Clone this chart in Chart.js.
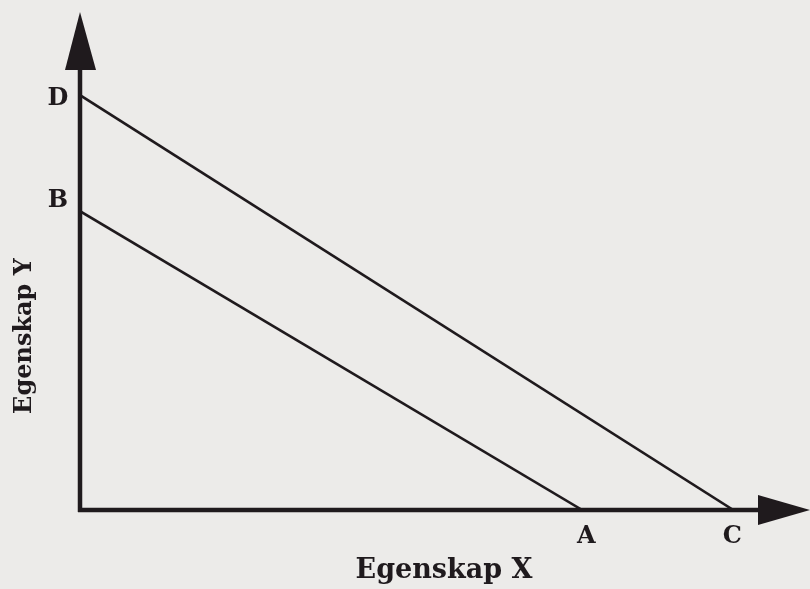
<!DOCTYPE html>
<html>
<head>
<meta charset="utf-8">
<script src="https://cdn.jsdelivr.net/npm/chart.js@4/dist/chart.umd.min.js"></script>
<style>
  html, body { margin: 0; padding: 0; background: #ecebe9; }
  #wrap { width: 810px; height: 589px; }
</style>
</head>
<body>
<div id="wrap"><canvas id="c" width="810" height="589"></canvas></div>
<script>
// Intercepts of the two straight lines on the axes
const pointNames = ['B', 'A', 'D', 'C'];
const innerLine = [{ x: 0, y: 6.0 }, { x: 6.88, y: 0 }];   // B -> A
const outerLine = [{ x: 0, y: 8.33 }, { x: 8.95, y: 0 }];  // D -> C
const axisMax = { x: 10, y: 10 };
const axisTitles = ['Egenskap X', 'Egenskap Y'];

const ink = '#1f1a1d';
const serif = '"DejaVu Serif", "Liberation Serif", serif';

// Axes with arrowheads, endpoint letters and axis titles
const diagramDecor = {
  id: 'diagramDecor',
  afterDatasetsDraw(chart) {
    const { ctx, scales: { x, y } } = chart;
    const x0 = x.getPixelForValue(0), y0 = y.getPixelForValue(0);
    const xEnd = x.getPixelForValue(axisMax.x), yEnd = y.getPixelForValue(axisMax.y);
    ctx.save();
    ctx.strokeStyle = ink;
    ctx.fillStyle = ink;
    ctx.lineWidth = 4.5;
    ctx.lineCap = 'butt';
    // vertical axis
    ctx.beginPath();
    ctx.moveTo(x0, y0 + 2);
    ctx.lineTo(x0, yEnd + 50);
    ctx.stroke();
    ctx.beginPath();
    ctx.moveTo(x0, yEnd);
    ctx.lineTo(x0 - 15, yEnd + 58);
    ctx.lineTo(x0 + 16, yEnd + 58);
    ctx.closePath();
    ctx.fill();
    // horizontal axis
    ctx.beginPath();
    ctx.moveTo(x0 - 2, y0);
    ctx.lineTo(xEnd - 45, y0);
    ctx.stroke();
    ctx.beginPath();
    ctx.moveTo(xEnd, y0);
    ctx.lineTo(xEnd - 52, y0 - 15);
    ctx.lineTo(xEnd - 52, y0 + 15);
    ctx.closePath();
    ctx.fill();

    // endpoint letters
    ctx.font = 'bold 24px ' + serif;
    ctx.textAlign = 'center';
    ctx.textBaseline = 'alphabetic';
    ctx.fillText(pointNames[0], x0 - 22, y.getPixelForValue(innerLine[0].y) - 4);
    ctx.fillText(pointNames[2], x0 - 22, y.getPixelForValue(outerLine[0].y) + 10);
    ctx.fillText(pointNames[1], x.getPixelForValue(innerLine[1].x) + 4, y0 + 33);
    ctx.fillText(pointNames[3], x.getPixelForValue(outerLine[1].x) - 1, y0 + 33);

    // axis titles
    ctx.font = 'bold 27px ' + serif;
    ctx.fillText(axisTitles[0], 444, 578);
    ctx.font = 'bold 24px ' + serif;
    ctx.translate(31, 336);
    ctx.rotate(-Math.PI / 2);
    ctx.fillText(axisTitles[1], 0, 0);
    ctx.restore();
  }
};

new Chart(document.getElementById('c'), {
  type: 'scatter',
  data: {
    datasets: [
      { data: innerLine, showLine: true, borderColor: ink, borderWidth: 2.6, pointRadius: 0, fill: false },
      { data: outerLine, showLine: true, borderColor: ink, borderWidth: 2.6, pointRadius: 0, fill: false }
    ]
  },
  options: {
    responsive: false,
    animation: false,
    layout: { padding: { left: 80, right: 0, top: 12, bottom: 79 } },
    plugins: { legend: { display: false }, tooltip: { enabled: false } },
    scales: {
      x: { type: 'linear', min: 0, max: axisMax.x, display: false },
      y: { type: 'linear', min: 0, max: axisMax.y, display: false }
    }
  },
  plugins: [diagramDecor]
});
</script>
</body>
</html>
